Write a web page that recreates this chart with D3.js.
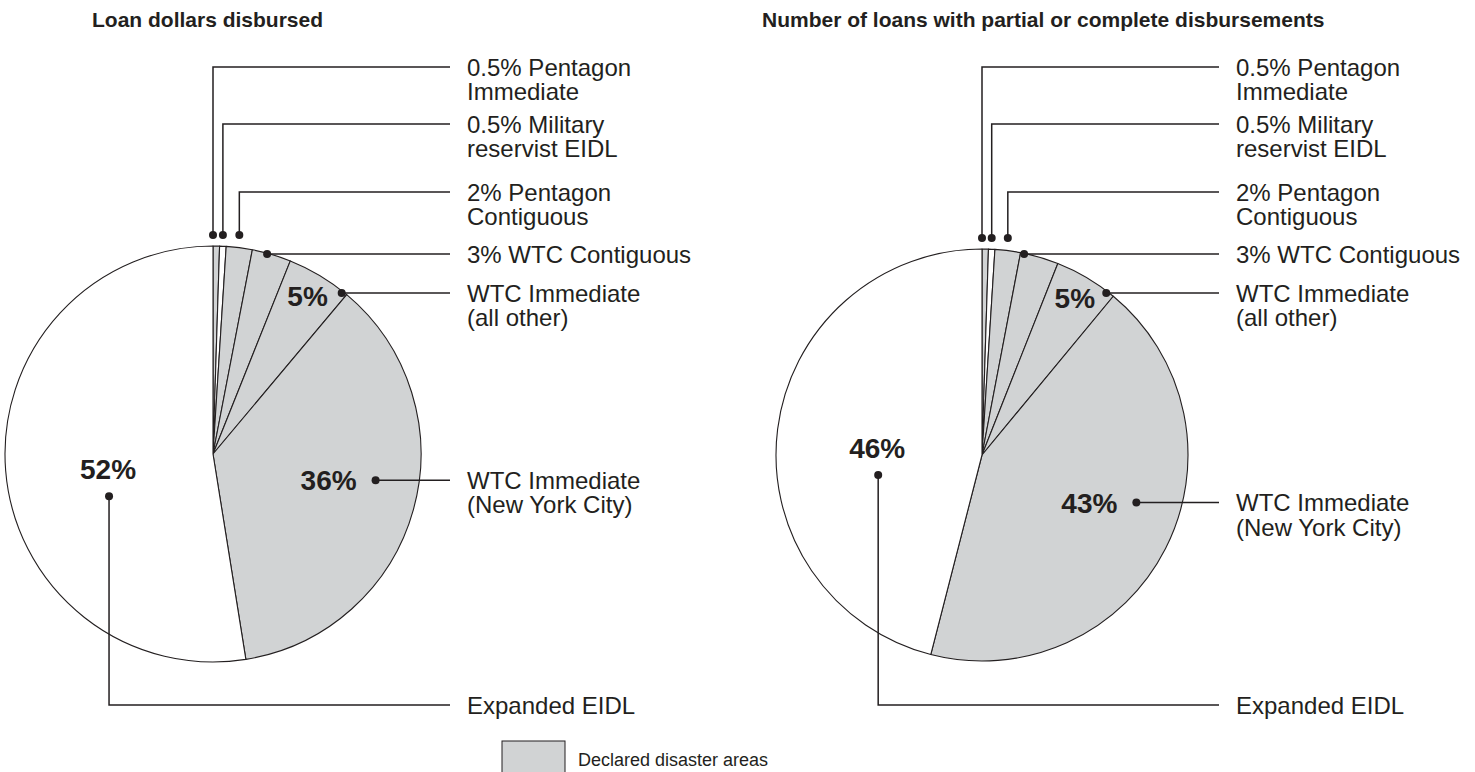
<!DOCTYPE html>
<html lang="en">
<head>
  <meta charset="UTF-8">
  <title>Loans disbursed by area</title>
  <script src="https://d3js.org/d3.v7.min.js"></script>
  <style>
    body, html {
      margin: 0;
      padding: 0;
      background: #fff;
    }
  </style>
</head>
<body>
  <svg id="svg" width="1475" height="772"></svg>
  <script>
    const categories = ["Pentagon Immediate", "Military reservist EIDL", "Pentagon Contiguous",
      "WTC Contiguous", "WTC Immediate (all other)", "WTC Immediate (New York City)", "Expanded EIDL"]
    const declared = [true, false, true, true, true, true, false]
    const dollarsPct = [0.5, 0.5, 2, 3, 5, 36, 52]
    const loansPct = [0.5, 0.5, 2, 3, 5, 43, 46]
    const calloutLines = [["Pentagon", "Immediate"], ["Military", "reservist EIDL"], ["Pentagon", "Contiguous"],
      ["WTC Contiguous"], ["WTC Immediate", "(all other)"], ["WTC Immediate", "(New York City)"], ["Expanded EIDL"]]
    const titles = ["Loan dollars disbursed", "Number of loans with partial or complete disbursements"]
    const legendLabel = "Declared disaster areas"

    const ink = "#231f20"
    const gray = "#d1d3d4"
    const fontFamily = "Liberation Sans, Arial, Helvetica, sans-serif"

    const svg = d3.select("svg")

    // where each callout leader goes
    const leaders = [
      { kind: "top", y: 67, t: 0 },
      { kind: "top", y: 124, t: 0.5 },
      { kind: "top", y: 192, t: 0.5 },
      { kind: "arc", y: 254 },
      { kind: "arc", y: 293 },
      { kind: "right" },
      { kind: "below", y: 705 }
    ]

    function drawPie(values, cx, cy, r, title, titleX) {
      const g = svg.append("g")

      g.append("text")
        .text(title)
        .attr("x", titleX)
        .attr("y", 27)
        .attr("font-family", fontFamily)
        .attr("font-weight", "bold")
        .attr("font-size", 21)
        .attr("fill", ink)

      const data = values.map((v, i) => ({ name: categories[i], value: v, declared: declared[i], i: i }))
      const arcs = d3.pie().sort(null).value(d => d.value)(data)
      const arcGen = d3.arc().innerRadius(0).outerRadius(r)

      const pieG = g.append("g").attr("transform", `translate(${cx},${cy})`)
      pieG.selectAll("path")
        .data(arcs)
        .enter()
        .append("path")
        .attr("d", arcGen)
        .attr("fill", d => d.data.declared ? gray : "#fff")
        .attr("stroke", ink)
        .attr("stroke-width", 1.1)
        .attr("stroke-linejoin", "round")

      const lineEnd = cx + 237
      const labelX = lineEnd + 17
      const polar = (a, rad) => [cx + rad * Math.sin(a), cy - rad * Math.cos(a)]

      arcs.forEach((a, i) => {
        const lay = leaders[i]
        const pct = a.data.value
        const inside = pct >= 5
        let pLabel = null
        if (inside) {
          const big = pct > 10
          const ang = big ? a.startAngle + 0.48 * (a.endAngle - a.startAngle) : (a.startAngle + a.endAngle) / 2
          const rad = big ? (a.data.declared ? 0.57 : 0.51) * r : 0.885 * r
          pLabel = polar(ang, rad)
          g.append("text")
            .text(`${pct}%`)
            .attr("x", pLabel[0])
            .attr("y", pLabel[1])
            .attr("dy", "0.36em")
            .attr("text-anchor", "middle")
            .attr("font-family", fontFamily)
            .attr("font-weight", "bold")
            .attr("font-size", 28)
            .attr("fill", ink)
        }

        let dot, pts, ly
        if (lay.kind === "top") {
          const ang = a.startAngle + lay.t * (a.endAngle - a.startAngle)
          dot = [polar(ang, r)[0], cy - r - 11]
          ly = lay.y
          pts = [dot, [dot[0], ly], [lineEnd, ly]]
        } else if (lay.kind === "arc") {
          ly = lay.y
          dot = [cx + Math.sqrt(r * r - (ly - cy) * (ly - cy)) - 3, ly]
          pts = [dot, [lineEnd, ly]]
        } else if (lay.kind === "right") {
          ly = pLabel[1]
          dot = [pLabel[0] + 47, ly]
          pts = [dot, [lineEnd, ly]]
        } else {
          ly = lay.y
          dot = [pLabel[0] + 1, pLabel[1] + 27]
          pts = [dot, [dot[0], ly], [lineEnd, ly]]
        }

        g.append("path")
          .attr("d", d3.line()(pts))
          .attr("fill", "none")
          .attr("stroke", ink)
          .attr("stroke-width", 1.5)
        g.append("circle")
          .attr("cx", dot[0])
          .attr("cy", dot[1])
          .attr("r", 4)
          .attr("fill", ink)

        const lines = calloutLines[i].slice()
        if (!inside) lines[0] = `${pct}% ${lines[0]}`
        const t = g.append("text")
          .attr("font-family", fontFamily)
          .attr("font-size", 24)
          .attr("fill", ink)
        lines.forEach((s, k) => {
          t.append("tspan")
            .text(s)
            .attr("x", labelX)
            .attr("y", ly + k * 24.5)
            .attr("dy", "0.36em")
        })
      })
    }

    drawPie(dollarsPct, 213, 454, 208, titles[0], 92)
    drawPie(loansPct, 982, 455, 206, titles[1], 762)

    // legend
    svg.append("rect")
      .attr("x", 502)
      .attr("y", 741)
      .attr("width", 63)
      .attr("height", 40)
      .attr("fill", gray)
      .attr("stroke", ink)
      .attr("stroke-width", 1)
    svg.append("text")
      .text(legendLabel)
      .attr("x", 578)
      .attr("y", 760)
      .attr("dy", "0.36em")
      .attr("font-family", fontFamily)
      .attr("font-size", 18)
      .attr("fill", ink)
  </script>
</body>
</html>
